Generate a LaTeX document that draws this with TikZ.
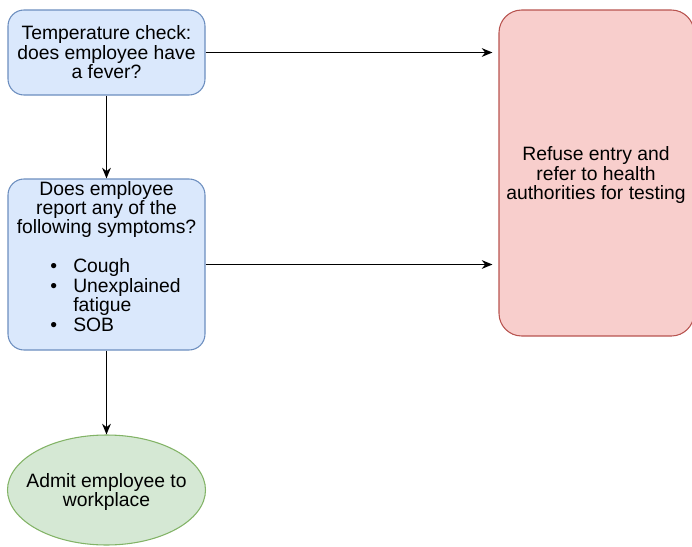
\documentclass[tikz,border=0pt]{standalone}
\usepackage{fontspec}
\setmainfont{Liberation Sans}
\usetikzlibrary{arrows.meta,shapes.geometric}
\definecolor{bluefill}{HTML}{DAE8FC}
\definecolor{bluedraw}{HTML}{6C8EBF}
\definecolor{redfill}{HTML}{F8CECC}
\definecolor{reddraw}{HTML}{B85450}
\definecolor{greenfill}{HTML}{D5E8D4}
\definecolor{greendraw}{HTML}{82B366}
\tikzset{
  txt/.style={font=\fontsize{14.5pt}{14.6pt}\selectfont, inner sep=0pt, align=center},
  bluebox/.style={draw=bluedraw, fill=bluefill, line width=0.8pt, rectangle, rounded corners=12pt, minimum width=147.75pt, inner sep=0pt},
  redbox/.style={draw=reddraw, fill=redfill, line width=0.8pt, rectangle, rounded corners=17pt, inner sep=0pt},
  greenell/.style={draw=greendraw, fill=greenfill, line width=0.8pt, ellipse, inner sep=0pt},
  arr/.style={line width=1pt, -{Stealth[length=8pt,width=6.5pt,inset=2.5pt]}},
}
\begin{document}
\begin{tikzpicture}[x=0.75pt,y=-0.75pt]
\useasboundingbox (0,0) rectangle (692,546);
\clip (0,0) rectangle (692,546);
\node[bluebox, minimum height=63.75pt] (q1) at (106.5,52.5) {};
\node[txt] (q1t) at (106.5,52.5) {Temperature check:\\does employee have\\a fever?};
\node[bluebox, minimum height=128.25pt] (q2) at (106.5,264.5) {};
\node[txt] (q2t) at (106.5,209.5) {Does employee\\report any of the\\following symptoms?};
\node[txt, align=left, anchor=west] (q2l) at (50,295) {\makebox[17.25pt][l]{\textbullet}Cough\\\makebox[17.25pt][l]{\textbullet}Unexplained\\\hspace*{17.25pt}fatigue\\\makebox[17.25pt][l]{\textbullet}SOB};
\node[greenell, minimum width=148.5pt, minimum height=82.5pt] (adm) at (106.5,490) {};
\node[txt] (admt) at (106.5,492) {Admit employee to\\workplace};
\node[redbox, minimum width=146.25pt, minimum height=244.5pt] (ref) at (596.5,173) {};
\node[txt] (reft) at (596,175) {Refuse entry and\\refer to health\\authorities for testing};
\draw[arr, shorten >=4.5pt] (q1.east) -- (q1.east -| ref.west);
\draw[arr, shorten >=4.5pt] (q2.east) -- (q2.east -| ref.west);
\draw[arr] (q1.south) -- (q2.north);
\draw[arr] (q2.south) -- (adm.north);
\end{tikzpicture}
\end{document}
